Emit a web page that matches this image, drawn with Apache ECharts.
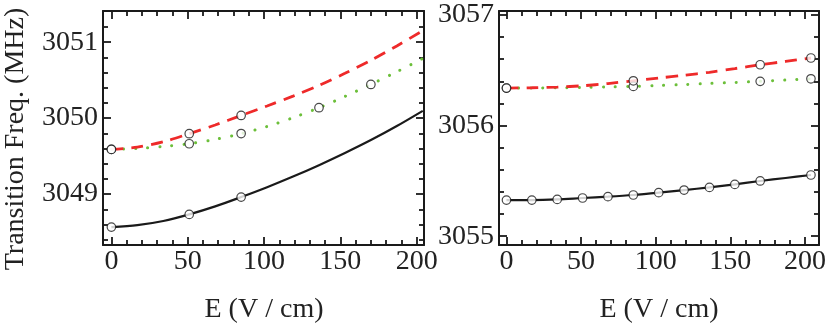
<!DOCTYPE html>
<html>
<head>
<meta charset="utf-8">
<script src="https://cdn.jsdelivr.net/npm/echarts@6.0.0/dist/echarts.min.js"></script>
<style>
  html, body { margin: 0; padding: 0; background: #fff; }
  #chart { width: 830px; height: 326px; }
</style>
</head>
<body>
<div id="chart"></div>
<script>
const FONT = "Liberation Serif";
const RED = "#ee2a2a";
const GREEN = "#6cbf3a";
const INK = "#1a1a1a";

// field values (V/cm) where the fitted curves are sampled
const FIT_FIELDS = [0, 17, 34, 51, 68, 85, 102, 119, 136, 153, 170, 187, 204];

// left panel
const LEFT_BLACK_FIT = [3048.566, 3048.591, 3048.646, 3048.733, 3048.838, 3048.961, 3049.091, 3049.231, 3049.381, 3049.541, 3049.711, 3049.896, 3050.096];
const LEFT_RED_FIT = [3049.588, 3049.618, 3049.688, 3049.795, 3049.91, 3050.035, 3050.16, 3050.29, 3050.43, 3050.59, 3050.76, 3050.95, 3051.15];
const LEFT_GREEN_FIT = [3049.588, 3049.6, 3049.627, 3049.663, 3049.72, 3049.795, 3049.89, 3050.005, 3050.137, 3050.285, 3050.443, 3050.61, 3050.785];
const LEFT_BLACK_E = [0, 51, 85];
const LEFT_BLACK_PTS = [3048.566, 3048.733, 3048.961];
const LEFT_RED_E = [0, 51, 85];
const LEFT_RED_PTS = [3049.588, 3049.795, 3050.035];
const LEFT_GREEN_E = [0, 51, 85, 136, 170];
const LEFT_GREEN_PTS = [3049.588, 3049.663, 3049.797, 3050.137, 3050.443];

// right panel
const RIGHT_BLACK_FIT = [3055.326, 3055.326, 3055.332, 3055.345, 3055.357, 3055.372, 3055.393, 3055.417, 3055.441, 3055.468, 3055.499, 3055.526, 3055.553];
const RIGHT_RED_FIT = [3056.339, 3056.342, 3056.348, 3056.36, 3056.38, 3056.405, 3056.43, 3056.455, 3056.482, 3056.515, 3056.55, 3056.58, 3056.611];
const RIGHT_GREEN_FIT = [3056.339, 3056.34, 3056.342, 3056.345, 3056.349, 3056.354, 3056.362, 3056.371, 3056.381, 3056.39, 3056.4, 3056.412, 3056.423];
const RIGHT_BLACK_E = [0, 17, 34, 51, 68, 85, 102, 119, 136, 153, 170, 204];
const RIGHT_BLACK_PTS = [3055.326, 3055.326, 3055.332, 3055.345, 3055.357, 3055.372, 3055.393, 3055.417, 3055.441, 3055.468, 3055.499, 3055.553];
const RIGHT_RED_E = [0, 85, 170, 204];
const RIGHT_RED_PTS = [3056.339, 3056.405, 3056.55, 3056.611];
const RIGHT_GREEN_E = [0, 85, 170, 204];
const RIGHT_GREEN_PTS = [3056.339, 3056.354, 3056.4, 3056.423];

// ticks
const X_MAJOR = [0, 50, 100, 150, 200];
const X_MINOR = [10, 20, 30, 40, 60, 70, 80, 90, 110, 120, 130, 140, 160, 170, 180, 190];
const LEFT_Y_MAJOR = [3049, 3050, 3051];
const LEFT_Y_MINOR = [3048.4, 3048.6, 3048.8, 3049.2, 3049.4, 3049.6, 3049.8, 3050.2, 3050.4, 3050.6, 3050.8, 3051.2];
const RIGHT_Y_MAJOR = [3055, 3056, 3057];
const RIGHT_Y_MINOR = [3055.2, 3055.4, 3055.6, 3055.8, 3056.2, 3056.4, 3056.6, 3056.8];

const chart = echarts.init(document.getElementById("chart"));

const zip = (xs, ys) => xs.map((x, i) => [x, ys[i]]);

// per side: one axis for major ticks (+labels on bottom/left), one for minor ticks
function axisSet(gridIndex, dim, range, majors, minors) {
  const sides = dim === "x" ? ["bottom", "top"] : ["left", "right"];
  const axes = [];
  sides.forEach((side, s) => {
    [true, false].forEach((major) => {
      axes.push({
        type: "value",
        gridIndex,
        position: side,
        min: range[0],
        max: range[1],
        axisLine: { show: major, onZero: false, lineStyle: { color: INK, width: 2 } },
        splitLine: { show: false },
        axisTick: {
          show: true,
          inside: true,
          length: major ? 8 : 5,
          customValues: major ? majors : minors,
          lineStyle: { color: INK, width: 1.8 },
        },
        axisLabel: {
          show: major && s === 0,
          customValues: majors,
          fontFamily: FONT,
          fontSize: 28,
          color: "#222",
          margin: dim === "x" ? 3 : 5,
          formatter: (v) => String(Math.round(v)),
        },
      });
    });
  });
  return axes;
}

const xAxis = [
  ...axisSet(0, "x", [-5.5, 204.8], X_MAJOR, X_MINOR),
  ...axisSet(1, "x", [-5, 209.4], X_MAJOR, X_MINOR),
];
const yAxis = [
  ...axisSet(0, "y", [3048.33, 3051.41], LEFT_Y_MAJOR, LEFT_Y_MINOR),
  ...axisSet(1, "y", [3054.92, 3057.036], RIGHT_Y_MAJOR, RIGHT_Y_MINOR),
];

function fitLine(panel, values, style) {
  return {
    type: "line",
    xAxisIndex: panel * 4,
    yAxisIndex: panel * 4,
    data: zip(FIT_FIELDS, values),
    smooth: 0.3,
    showSymbol: false,
    symbol: "none",
    lineStyle: style,
    z: 2,
  };
}

function points(panel, xs, ys) {
  return {
    type: "scatter",
    xAxisIndex: panel * 4,
    yAxisIndex: panel * 4,
    data: zip(xs, ys),
    symbol: "circle",
    symbolSize: 8.5,
    itemStyle: { color: "#ffffff", borderColor: INK, borderWidth: 1.2 },
    z: 5,
  };
}

const blackStyle = { color: INK, width: 2.2, type: "solid" };
const redStyle = { color: RED, width: 2.8, type: [12, 8] };
const greenStyle = { color: GREEN, width: 3, type: [0.1, 12], cap: "round" };

const nameFont = `28px "${FONT}"`;

chart.setOption({
  animation: false,
  grid: [
    { left: 103, top: 11, width: 321, height: 234 },
    { left: 499, top: 11, width: 320, height: 234 },
  ],
  xAxis,
  yAxis,
  graphic: [
    {
      type: "text",
      x: 16,
      y: 139,
      rotation: Math.PI / 2,
      style: { text: "Transition Freq. (MHz)", font: nameFont, fill: "#222", align: "center", verticalAlign: "middle" },
    },
    {
      type: "text",
      x: 264,
      y: 310,
      style: { text: "E (V / cm)", font: nameFont, fill: "#222", align: "center", verticalAlign: "middle" },
    },
    {
      type: "text",
      x: 659,
      y: 310,
      style: { text: "E (V / cm)", font: nameFont, fill: "#222", align: "center", verticalAlign: "middle" },
    },
  ],
  series: [
    fitLine(0, LEFT_BLACK_FIT, blackStyle),
    fitLine(0, LEFT_GREEN_FIT, greenStyle),
    fitLine(0, LEFT_RED_FIT, redStyle),
    points(0, LEFT_BLACK_E, LEFT_BLACK_PTS),
    points(0, LEFT_GREEN_E, LEFT_GREEN_PTS),
    points(0, LEFT_RED_E, LEFT_RED_PTS),
    fitLine(1, RIGHT_BLACK_FIT, blackStyle),
    fitLine(1, RIGHT_GREEN_FIT, greenStyle),
    fitLine(1, RIGHT_RED_FIT, redStyle),
    points(1, RIGHT_BLACK_E, RIGHT_BLACK_PTS),
    points(1, RIGHT_GREEN_E, RIGHT_GREEN_PTS),
    points(1, RIGHT_RED_E, RIGHT_RED_PTS),
  ],
});
</script>
</body>
</html>
